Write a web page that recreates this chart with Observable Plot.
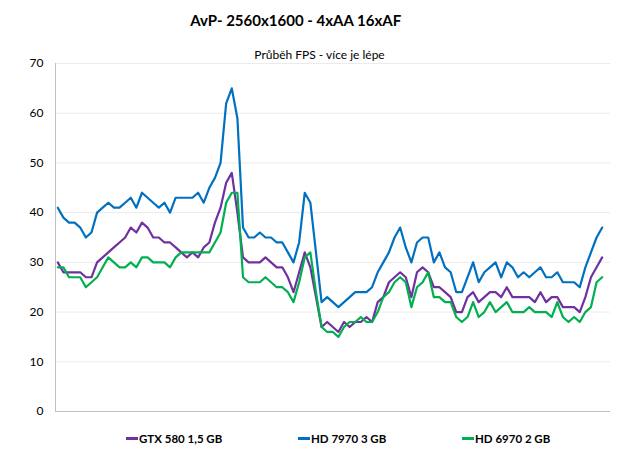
<!DOCTYPE html>
<html><head><meta charset="utf-8">
<script src="https://cdn.jsdelivr.net/npm/d3@7"></script>
<script src="https://cdn.jsdelivr.net/npm/@observablehq/plot@0.6"></script>
<style>
body{margin:0;background:#fff;font-family:Lato,"Open Sans",sans-serif;}
#wrap{position:relative;width:620px;height:460px;overflow:hidden;background:#fff}
#title{position:absolute;left:295.7px;top:11px;transform:translateX(-50%);white-space:nowrap;font-weight:bold;font-size:15px;color:#000;z-index:2}
#subtitle{position:absolute;left:319.5px;top:47px;transform:translateX(-50%);white-space:nowrap;font-size:12px;color:#000;z-index:2}
#chart{position:absolute;left:0;top:50px;z-index:1}
#chart svg{overflow:visible}
.leg{position:absolute;top:432px;font-weight:bold;font-size:11.5px;color:#000;white-space:nowrap;display:flex;align-items:center}
.leg span.sw{display:inline-block;width:12px;height:2.5px;margin-right:1px}
</style>
</head><body>
<div id="wrap">
  <div id="chart"></div>
  <div id="title"></div>
  <div id="subtitle"></div>
  <div id="legend"></div>
</div>
<script>
const titleText = "AvP- 2560x1600 - 4xAA 16xAF";
const subtitleText = "Průběh FPS - více je lépe";
const seriesNames = ["GTX 580 1,5 GB", "HD 7970 3 GB", "HD 6970 2 GB"];
const seriesColors = ["#7030a0", "#0070c0", "#00b050"];
const yTicks = [0, 10, 20, 30, 40, 50, 60, 70];

const gtx580 = [30,28,28,28,28,27,27,30,31,32,33,34,35,37,36,38,37,35,35,34,34,33,32,31,32,31,33,34,38,41,46,48,40,31,30,30,30,31,30,29,29,27,24,28,32,29,23,17,18,17,16,18,17,18,18,19,18,22,23,26,27,28,27,23,28,29,28,25,25,24,23,20,20,23,24,22,23,24,24,23,25,23,23,23,23,22,24,22,23,23,21,21,21,20,23,27,29,31];
const hd7970 = [41,39,38,38,37,35,36,40,41,42,41,41,42,43,41,44,43,42,41,42,40,43,43,43,43,44,42,45,47,50,62,65,59,37,35,35,36,35,35,34,34,32,30,34,44,42,32,22,23,22,21,22,23,24,24,24,25,28,30,32,35,37,33,30,34,35,35,30,32,29,28,24,24,27,30,26,28,29,30,27,30,29,27,28,27,28,29,27,27,28,26,26,26,25,29,32,35,37];
const hd6970 = [29,29,27,27,27,25,26,27,29,31,30,29,29,30,29,31,31,30,30,30,29,31,32,32,32,32,32,32,34,36,42,44,44,27,26,26,26,27,26,25,25,24,22,26,31,32,24,17,16,16,15,17,18,18,19,18,18,20,23,24,26,27,26,21,25,26,28,23,23,22,22,19,18,19,22,19,20,22,20,21,22,20,20,20,21,20,20,20,19,22,19,18,19,18,20,21,26,27];

document.getElementById("title").textContent = titleText;
document.getElementById("subtitle").textContent = subtitleText;

const allSeries = [gtx580, hd7970, hd6970];
const n = gtx580.length;

const chart = Plot.plot({
  width: 620,
  height: 375,
  marginLeft: 55,
  marginRight: 10,
  marginTop: 13,
  marginBottom: 14,
  x: {domain: [0, n - 1], range: [57.3, 601.7], axis: null},
  y: {domain: [0, 70]},
  style: {fontFamily: "Lato, 'Open Sans', sans-serif", fontSize: "12px", color: "#000", background: "transparent"},
  marks: [
    Plot.ruleY(yTicks.filter(d => d > 0), {stroke: "#ebebeb", strokeWidth: 1}),
    Plot.ruleY([0], {stroke: "#bfbfbf", strokeWidth: 1}),
    Plot.frame({anchor: "left", stroke: "#bfbfbf", strokeWidth: 1}),
    Plot.axisY({ticks: yTicks, tickSize: 0, tickPadding: 12, label: null, tickFormat: d => String(d)}),
    ...allSeries.map((vals, k) =>
      Plot.lineY(vals, {x: (d, i) => i, y: d => d, stroke: seriesColors[k], strokeWidth: 2.2, strokeLinejoin: "round"})
    )
  ]
});
document.getElementById("chart").appendChild(chart);

const legendLefts = [126, 298, 462];
const legend = document.getElementById("legend");
seriesNames.forEach((name, k) => {
  const item = document.createElement("div");
  item.className = "leg";
  item.style.left = legendLefts[k] + "px";
  const sw = document.createElement("span");
  sw.className = "sw";
  sw.style.background = seriesColors[k];
  item.appendChild(sw);
  item.appendChild(document.createTextNode(name));
  legend.appendChild(item);
});
</script>
</body></html>
